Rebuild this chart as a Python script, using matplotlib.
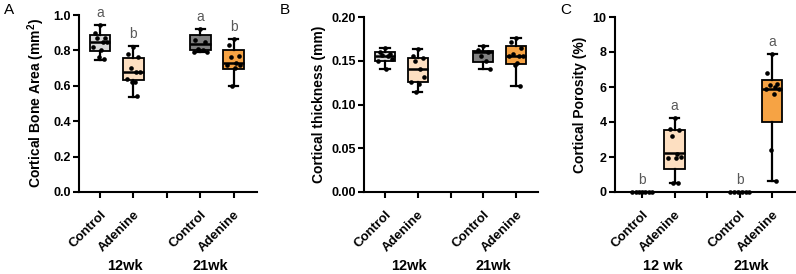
import matplotlib
matplotlib.use("Agg")
import matplotlib.pyplot as plt
import matplotlib.transforms as mtransforms
import numpy as np

plt.rcParams['font.family'] = ['Liberation Sans', 'DejaVu Sans']
plt.rcParams['mathtext.fontset'] = 'custom'
plt.rcParams['mathtext.bf'] = 'Liberation Sans:bold'
plt.rcParams['mathtext.rm'] = 'Liberation Sans:bold'

# ---------------- data ----------------
groups = ["12wk Control", "12wk Adenine", "21wk Control", "21wk Adenine"]
tick_labels = ["Control", "Adenine", "", "Control", "Adenine"]
box_colors = ["#D9D9D9", "#FDDFC1", "#808080", "#F6A344"]
positions = [1, 2, 4, 5]

# Panel A: cortical bone area (mm^2)
a_whislo = [0.748, 0.538, 0.790, 0.598]
a_q1 = [0.795, 0.632, 0.805, 0.697]
a_med = [0.848, 0.679, 0.838, 0.726]
a_q3 = [0.889, 0.757, 0.889, 0.800]
a_whishi = [0.945, 0.823, 0.921, 0.865]
a_points = [
    [0.945, 0.90, 0.87, 0.87, 0.845, 0.845, 0.82, 0.80, 0.76, 0.75],
    [0.82, 0.78, 0.76, 0.70, 0.68, 0.68, 0.64, 0.62, 0.62, 0.54],
    [0.92, 0.86, 0.85, 0.81, 0.80, 0.79, 0.79],
    [0.865, 0.83, 0.77, 0.76, 0.73, 0.72, 0.72, 0.70, 0.60],
]
a_letters = ["a", "b", "a", "b"]

# Panel B: cortical thickness (mm)
b_whislo = [0.140, 0.114, 0.140, 0.121]
b_q1 = [0.150, 0.126, 0.149, 0.146]
b_med = [0.155, 0.140, 0.160, 0.155]
b_q3 = [0.160, 0.153, 0.161, 0.167]
b_whishi = [0.165, 0.164, 0.167, 0.176]
b_points = [
    [0.165, 0.160, 0.158, 0.157, 0.155, 0.152, 0.150, 0.140],
    [0.164, 0.155, 0.153, 0.150, 0.140, 0.131, 0.126, 0.124, 0.114],
    [0.167, 0.162, 0.160, 0.155, 0.150, 0.140],
    [0.176, 0.172, 0.165, 0.158, 0.155, 0.155, 0.155, 0.148, 0.145, 0.121],
]

# Panel C: cortical porosity (%)
c_whislo = [0.0, 0.51, 0.0, 0.63]
c_q1 = [0.0, 1.30, 0.0, 4.0]
c_med = [0.0, 2.23, 0.0, 5.9]
c_q3 = [0.0, 3.52, 0.0, 6.42]
c_whishi = [0.0, 4.23, 0.0, 7.87]
c_points = [
    [0, 0, 0, 0, 0, 0, 0],
    [4.23, 3.6, 3.55, 3.2, 2.2, 2.0, 1.95, 1.95, 0.5, 0.5],
    [0, 0, 0, 0, 0, 0],
    [7.87, 6.8, 6.2, 6.1, 6.0, 5.9, 5.9, 5.6, 2.4, 0.63],
]
c_letters = ["b", "a", "b", "a"]

# ---------------- figure ----------------
fig = plt.figure(figsize=(7.96, 2.74), dpi=100)

W, H = 796, 274
def rect(l, r, t, b):
    return [l / W, 1 - b / H, (r - l) / W, (b - t) / H]

axA = fig.add_axes(rect(79, 257, 15, 192))
axB = fig.add_axes(rect(364, 538, 17, 192))
axC = fig.add_axes(rect(615, 795, 17, 192))

jit_pattern = [0.0, -0.15, 0.15, -0.08, 0.08, 0.2, -0.2, 0.04, -0.04, 0.12]

def panel(ax, whislo, q1, med, q3, whishi, points, xlim, ylim, yticks, yfmt,
          ylabel, letters, group_x, group_names, zero_spread=False):
    stats = []
    for i in range(4):
        stats.append(dict(whislo=whislo[i], q1=q1[i], med=med[i], q3=q3[i],
                          whishi=whishi[i], label=groups[i]))
    bp = ax.bxp(stats, positions=positions, widths=0.62, showfliers=False,
                patch_artist=True, capwidths=0.28,
                boxprops=dict(linewidth=1.3, edgecolor='black'),
                whiskerprops=dict(linewidth=1.6, color='black'),
                capprops=dict(linewidth=1.6, color='black'),
                medianprops=dict(linewidth=1.8, color='black'))
    for patch, col in zip(bp['boxes'], box_colors):
        patch.set_facecolor(col)
    for i, pts in enumerate(points):
        n = len(pts)
        if zero_spread and all(p == 0 for p in pts):
            offs = np.linspace(-0.3, 0.3, n)
        else:
            offs = np.array([jit_pattern[k % len(jit_pattern)] for k in range(n)])
        ax.scatter(positions[i] + offs, pts, s=11, color='black', zorder=5,
                   linewidths=0, clip_on=False)
    if letters:
        for i, L in enumerate(letters):
            ax.annotate(L, xy=(positions[i], whishi[i]), xytext=(0, 3.5),
                        textcoords='offset points', ha='center', va='bottom',
                        fontsize=10, color='#595959',
                        fontfamily=['Liberation Sans'])
    ax.set_xlim(*xlim)
    ax.set_ylim(*ylim)
    ax.set_yticks(yticks)
    ax.set_yticklabels([yfmt.format(v) for v in yticks], fontweight='bold',
                       fontsize=9)
    ax.set_xticks([1, 2, 3, 4, 5])
    ax.set_xticklabels(tick_labels, rotation=45, ha='right',
                       rotation_mode='anchor', fontweight='bold', fontsize=9.5)
    ax.set_ylabel(ylabel, fontweight='bold', fontsize=10, labelpad=4)
    for s in ['top', 'right']:
        ax.spines[s].set_visible(False)
    for s in ['left', 'bottom']:
        ax.spines[s].set_linewidth(1.5)
    ax.tick_params(axis='both', width=1.5, length=4, direction='out')
    ax.tick_params(axis='x', pad=8)
    ax.tick_params(axis='y', pad=2)
    trans = mtransforms.blended_transform_factory(ax.transData, fig.transFigure)
    for gx, gn in zip(group_x, group_names):
        ax.text(gx, 1 - 266 / H, gn, transform=trans, ha='center',
                va='center', fontweight='bold', fontsize=10.5)

panel(axA, a_whislo, a_q1, a_med, a_q3, a_whishi, a_points,
      (0.37, 5.7), (0, 1.0), [0, 0.2, 0.4, 0.6, 0.8, 1.0], "{:.1f}",
      r'Cortical Bone Area (mm$^{\mathbf{2}}$)', a_letters,
      [1.75, 4.3], ["12wk", "21wk"])
panel(axB, b_whislo, b_q1, b_med, b_q3, b_whishi, b_points,
      (0.36, 5.67), (0, 0.20), [0, 0.05, 0.10, 0.15, 0.20], "{:.2f}",
      'Cortical thickness (mm)', None,
      [1.73, 4.3], ["12wk", "21wk"])
panel(axC, c_whislo, c_q1, c_med, c_q3, c_whishi, c_points,
      (0.17, 5.7), (0, 10), [0, 2, 4, 6, 8, 10], "{:.0f}",
      'Cortical Porosity (%)', c_letters,
      [1.63, 4.36], ["12 wk", "21wk"], zero_spread=True)

fig.text(4 / W, 1 - 10 / H, "A", fontsize=11, va='center', ha='left')
fig.text(280 / W, 1 - 10 / H, "B", fontsize=11, va='center', ha='left')
fig.text(560 / W, 1 - 10 / H, "C", fontsize=11, va='center', ha='left')

fig.savefig("out.png", dpi=100)
